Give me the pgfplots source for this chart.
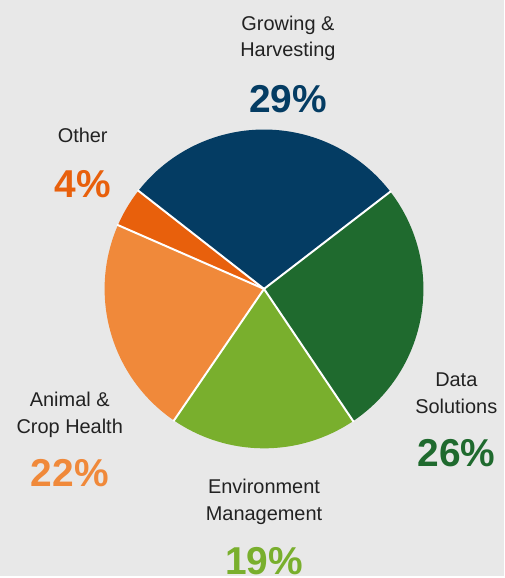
\documentclass[border=0pt]{standalone}
\usepackage{pgfplots}
\usepackage{pgfplotstable}
\pgfplotsset{compat=1.18}
\usepackage{fontspec}
\setmainfont{Liberation Sans}

\definecolor{bg}{HTML}{E8E8E8}
\definecolor{cgrow}{HTML}{043C63}
\definecolor{cdata}{HTML}{1F6A2E}
\definecolor{cenv}{HTML}{79AF2D}
\definecolor{canim}{HTML}{F0893A}
\definecolor{coth}{HTML}{E8600C}
\definecolor{txt}{HTML}{222222}

% share of each slice, clockwise from the top slice
\pgfplotstableread[col sep=comma]{
name,value,color
Growing,29,cgrow
Data,26,cdata
Environment,19,cenv
Animal,22,canim
Other,4,coth
}\piedata

\begin{document}
\begin{tikzpicture}
% start/end angles of every slice
\xdef\curang{142}
\pgfplotsforeachungrouped \i in {0,...,4}{%
  \pgfplotstablegetelem{\i}{value}\of\piedata
  \pgfmathsetmacro\e{\curang-3.6*\pgfplotsretval}%
  \expandafter\xdef\csname pieS\i\endcsname{\curang}%
  \expandafter\xdef\csname pieE\i\endcsname{\e}%
  \xdef\curang{\e}%
  \pgfplotstablegetelem{\i}{color}\of\piedata
  \expandafter\xdef\csname pieC\i\endcsname{\pgfplotsretval}%
}
\begin{axis}[
    x=1pt, y=1pt,
    xmin=0, xmax=506, ymin=-578, ymax=0,
    hide axis,
    clip=false,
]
\fill[bg] (axis cs:0,-578) rectangle (axis cs:506,0);

\pgfplotsinvokeforeach{0,...,4}{
  \fill[\csname pieC#1\endcsname]
    (axis cs:265,-290) -- ++(\csname pieS#1\endcsname:160pt)
    arc[start angle=\csname pieS#1\endcsname, end angle=\csname pieE#1\endcsname, radius=160pt] -- cycle;
}
\pgfplotsinvokeforeach{0,...,4}{
  \draw[white, line width=2pt] (axis cs:265,-290) -- ++(\csname pieS#1\endcsname:161pt);
}

% labels
\tikzset{lab/.style={align=center, text=txt, font=\fontsize{20}{27}\selectfont},
         pct/.style={font=\fontsize{39}{40}\selectfont\bfseries}}
\node[lab] at (axis cs:289,-38.5) {Growing \&\\Harvesting};
\node[pct, text=cgrow] at (axis cs:289,-100) {29\%};
\node[lab] at (axis cs:83,-136) {Other};
\node[pct, text=coth] at (axis cs:83,-185) {4\%};
\node[lab] at (axis cs:70,-416.5) {Animal \&\\Crop Health};
\node[pct, text=canim] at (axis cs:70,-475) {22\%};
\node[lab] at (axis cs:265,-503.5) {Environment\\Management};
\node[pct, text=cenv] at (axis cs:265,-563) {19\%};
\node[lab] at (axis cs:458,-394.5) {Data\\Solutions};
\node[pct, text=cdata] at (axis cs:458,-455) {26\%};
\end{axis}
\end{tikzpicture}
\end{document}
